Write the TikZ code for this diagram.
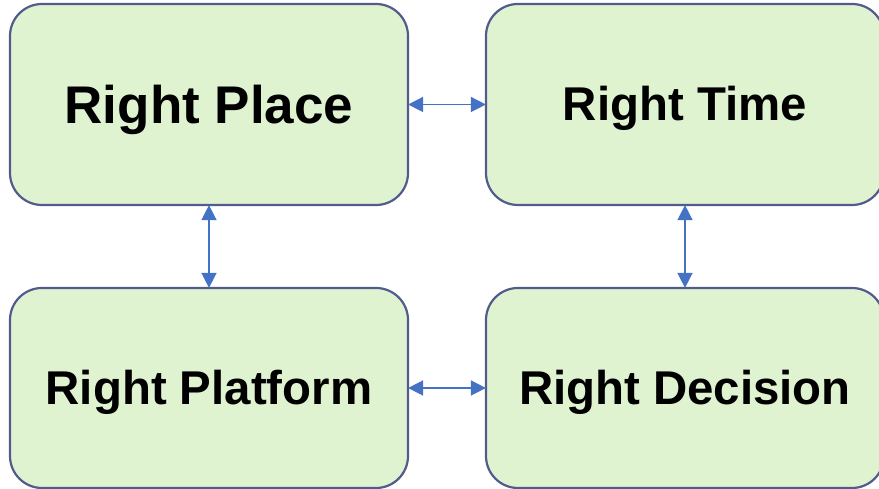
\documentclass[tikz,border=0pt]{standalone}
\usepackage{fontspec}
\setmainfont{Liberation Sans}
\usetikzlibrary{arrows.meta}
\definecolor{boxfill}{RGB}{223,243,208}
\definecolor{boxline}{RGB}{82,92,140}
\definecolor{arrowblue}{RGB}{68,114,196}
\tikzset{
  card/.style={draw=boxline, fill=boxfill, line width=2.2pt, rounded corners=32pt,
    minimum width=398pt, minimum height=201pt, inner sep=0pt, align=center,
    text height=33pt, text depth=0pt,
    font=\bfseries\fontsize{47.4pt}{50pt}\selectfont},
  link/.style={draw=arrowblue, line width=1.5pt,
    {Triangle[length=15pt,width=15pt]}-{Triangle[length=15pt,width=15pt]}, shorten <=-1pt, shorten >=-1pt}
}
\begin{document}
\begin{tikzpicture}[x=1pt,y=1pt]
\useasboundingbox (0,0) rectangle (879,489);
\clip (0,0) rectangle (879,489);
\node[card, text height=37.5pt, font=\bfseries\fontsize{53pt}{56pt}\selectfont] (TL) at (209,384.5) {Right Place};
\node[card] (TR) at (685,384.5) {Right Time};
\node[card, minimum height=200pt] (BL) at (209,101) {Right Platform};
\node[card, minimum height=200pt] (BR) at (685,101) {Right Decision};
\draw[link] (TL) -- (TR);
\draw[link] (TL) -- (BL);
\draw[link] (TR) -- (BR);
\draw[link] (BL) -- (BR);
\end{tikzpicture}
\end{document}
